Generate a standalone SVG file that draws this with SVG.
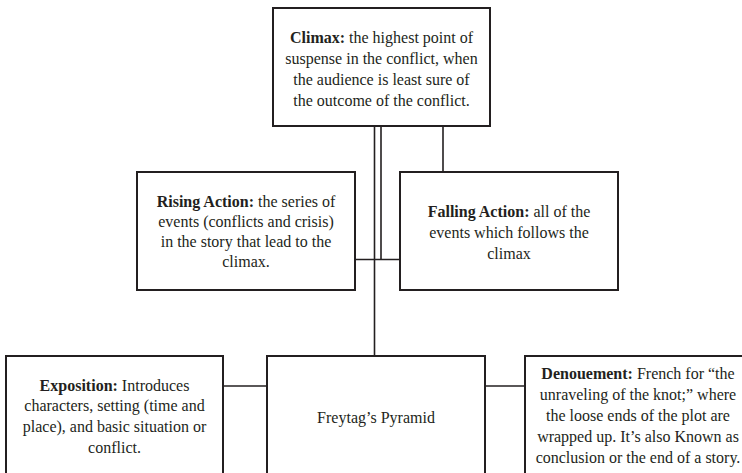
<svg xmlns="http://www.w3.org/2000/svg" width="742" height="473" viewBox="0 0 742 473">
<style>
.box{fill:#fff;stroke:#231f20;stroke-width:2}
.ln{stroke:#231f20;stroke-width:1.6;fill:none}
text{font-family:"Liberation Serif","Times New Roman",serif;font-size:16px;fill:#231f20;text-anchor:middle}
.b{font-weight:bold}
</style>
<rect width="742" height="473" fill="#fff"/>
<g id="connectors">
<line class="ln" x1="374.5" y1="126" x2="374.5" y2="356"/>
<line class="ln" x1="381" y1="126" x2="381" y2="259.5"/>
<line class="ln" x1="355" y1="259.5" x2="400" y2="259.5"/>
<line class="ln" x1="443" y1="126" x2="443" y2="172"/>
<line class="ln" x1="223" y1="386" x2="267" y2="386"/>
<line class="ln" x1="485" y1="386" x2="525" y2="386"/>
</g>
<g id="climax">
<rect class="box" x="273" y="8" width="217" height="118"/>
<text x="381.5" y="43"><tspan class="b">Climax:</tspan> the highest point of</text>
<text x="381.5" y="64">suspense in the conflict, when</text>
<text x="381.5" y="85">the audience is least sure of</text>
<text x="381.5" y="106">the outcome of the conflict.</text>
</g>
<g id="rising">
<rect class="box" x="137" y="172" width="218" height="118"/>
<text x="246" y="207"><tspan class="b">Rising Action:</tspan> the series of</text>
<text x="246" y="227">events (conflicts and crisis)</text>
<text x="246" y="247">in the story that lead to the</text>
<text x="246" y="267">climax.</text>
</g>
<g id="falling">
<rect class="box" x="400" y="172" width="218" height="118"/>
<text x="509" y="217"><tspan class="b">Falling Action:</tspan> all of the</text>
<text x="509" y="238">events which follows the</text>
<text x="509" y="259">climax</text>
</g>
<g id="exposition">
<rect class="box" x="6" y="356" width="217" height="130"/>
<text x="114.5" y="391"><tspan class="b">Exposition:</tspan> Introduces</text>
<text x="114.5" y="411">characters, setting (time and</text>
<text x="114.5" y="432">place), and basic situation or</text>
<text x="114.5" y="453">conflict.</text>
</g>
<g id="freytag">
<rect class="box" x="267" y="356" width="218" height="130"/>
<text x="376" y="423">Freytag’s Pyramid</text>
</g>
<g id="denouement">
<rect class="box" x="525" y="356" width="227" height="130"/>
<text x="638" y="379"><tspan class="b">Denouement:</tspan> French for “the</text>
<text x="638" y="400">unraveling of the knot;” where</text>
<text x="638" y="421">the loose ends of the plot are</text>
<text x="638" y="442">wrapped up. It’s also Known as</text>
<text x="638" y="463">conclusion or the end of a story.</text>
</g>
</svg>
